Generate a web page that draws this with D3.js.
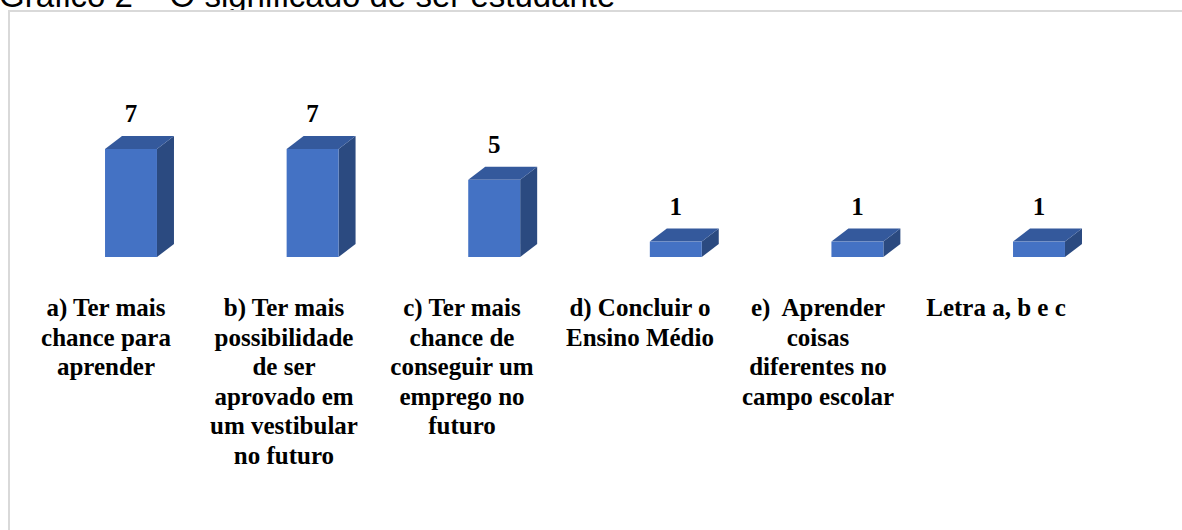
<!DOCTYPE html>
<html>
<head>
<meta charset="utf-8">
<script src="https://cdn.jsdelivr.net/npm/d3@7"></script>
<style>
  html, body { margin: 0; padding: 0; background: #fff; overflow: hidden; }
  svg { display: block; }
</style>
</head>
<body>
<div id="chart"></div>
<script>
// dados do gráfico
const categories = [
  ["a) Ter mais", "chance para", "aprender"],
  ["b) Ter mais", "possibilidade", "de ser", "aprovado em", "um vestibular", "no futuro"],
  ["c) Ter mais", "chance de", "conseguir um", "emprego no", "futuro"],
  ["d) Concluir o", "Ensino Médio"],
  ["e)  Aprender", "coisas", "diferentes no", "campo escolar"],
  ["Letra a, b e c"]
];
const values = [7, 7, 5, 1, 1, 1];
const title = "Gráfico 2 – O significado de ser estudante";

(function() {
  const width = 1182, height = 530;
  const keys = categories.map((d, i) => i);

  const svg = d3.select("#chart").append("svg")
    .attr("width", width)
    .attr("height", height);

  // título (parcialmente coberto pela área do gráfico)
  svg.append("text")
    .attr("x", -1)
    .attr("y", 7)
    .style("font-family", "'Liberation Sans', Arial, sans-serif")
    .style("font-size", "33px")
    .style("fill", "#000")
    .text(title);

  svg.append("rect")
    .attr("x", 9)
    .attr("y", 11)
    .attr("width", width + 10)
    .attr("height", height + 10)
    .style("fill", "#fff")
    .style("stroke", "#d9d9d9")
    .style("stroke-width", 2);

  const x = d3.scaleBand()
    .domain(keys)
    .range([40.2, 1129.8])
    .paddingInner(0.714)
    .paddingOuter(0.357);

  const xLabel = d3.scalePoint()
    .domain(keys)
    .range([106, 996]);

  const y = d3.scaleLinear()
    .domain([0, 7])
    .range([257, 149]);

  const dx = 17, dy = 13;

  const bars = svg.append("g").selectAll("g")
    .data(values)
    .join("g");

  // face lateral
  bars.append("path")
    .attr("d", (d, i) => {
      const x1 = x(i) + x.bandwidth();
      return `M${x1},${y(d)} L${x1 + dx},${y(d) - dy} L${x1 + dx},${y(0) - dy} L${x1},${y(0)} Z`;
    })
    .style("fill", "#2b4a80");

  // topo
  bars.append("path")
    .attr("d", (d, i) => {
      const x0 = x(i), x1 = x(i) + x.bandwidth();
      return `M${x0},${y(d)} L${x0 + dx},${y(d) - dy} L${x1 + dx},${y(d) - dy} L${x1},${y(d)} Z`;
    })
    .style("fill", "#34599c");

  // frente
  bars.append("rect")
    .attr("x", (d, i) => x(i))
    .attr("y", d => y(d))
    .attr("width", x.bandwidth())
    .attr("height", d => y(0) - y(d))
    .style("fill", "#4472c4");

  // rótulos de valor
  svg.append("g").selectAll("text")
    .data(values)
    .join("text")
    .attr("x", (d, i) => x(i) + x.bandwidth() / 2)
    .attr("y", d => y(d) - dy - 14)
    .attr("text-anchor", "middle")
    .style("font-family", "'Liberation Serif', 'Times New Roman', serif")
    .style("font-weight", "bold")
    .style("font-size", "25px")
    .text(d => d);

  // rótulos das categorias
  const labels = svg.append("g").selectAll("text")
    .data(categories)
    .join("text")
    .attr("text-anchor", "middle")
    .style("font-family", "'Liberation Serif', 'Times New Roman', serif")
    .style("font-weight", "bold")
    .style("font-size", "25px")
    .style("white-space", "pre");

  labels.selectAll("tspan")
    .data((d, i) => d.map(line => ({ line, i })))
    .join("tspan")
    .attr("x", d => xLabel(d.i))
    .attr("y", (d, j) => 316 + j * 29.5)
    .text(d => d.line);
})();
</script>
</body>
</html>
